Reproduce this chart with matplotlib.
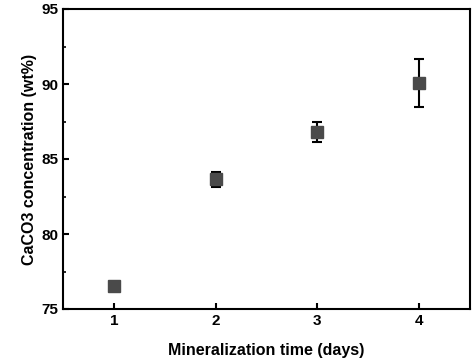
import matplotlib
matplotlib.use("Agg")
from matplotlib import pyplot as plt
from matplotlib.ticker import MultipleLocator

days = [1, 2, 3, 4]
caco3 = [76.55, 83.65, 86.8, 90.05]
err = [0.2, 0.5, 0.65, 1.6]

plt.rcParams["font.family"] = ["Liberation Sans", "DejaVu Sans"]
plt.rcParams["font.weight"] = "bold"

fig = plt.figure(figsize=(4.72, 3.63), dpi=100)
ax = fig.add_axes([63 / 472, 1 - 309 / 363, 407 / 472, 300 / 363])

ax.errorbar(days, caco3, yerr=err, fmt="s", color="#4a4a4a", ms=8.5,
            ecolor="black", elinewidth=1.5, capsize=3.5, capthick=1.5)

ax.set_xlim(0.5, 4.5)
ax.set_ylim(75, 95)
ax.set_xticks(days)
ax.yaxis.set_major_locator(MultipleLocator(5))
ax.yaxis.set_minor_locator(MultipleLocator(2.5))
ax.tick_params(direction="in", width=1.5, length=4, labelsize=11)
ax.tick_params(which="minor", direction="in", width=1.2, length=2.5)
for s in ax.spines.values():
    s.set_linewidth(1.5)
for lab in ax.get_xticklabels() + ax.get_yticklabels():
    lab.set_fontweight("bold")

ax.set_xlabel("Mineralization time (days)", fontsize=11.5, fontweight="bold", labelpad=11)
ax.set_ylabel("CaCO3 concentration (wt%)", fontsize=11.5, fontweight="bold", labelpad=3)

fig.savefig("out.png", dpi=100)
